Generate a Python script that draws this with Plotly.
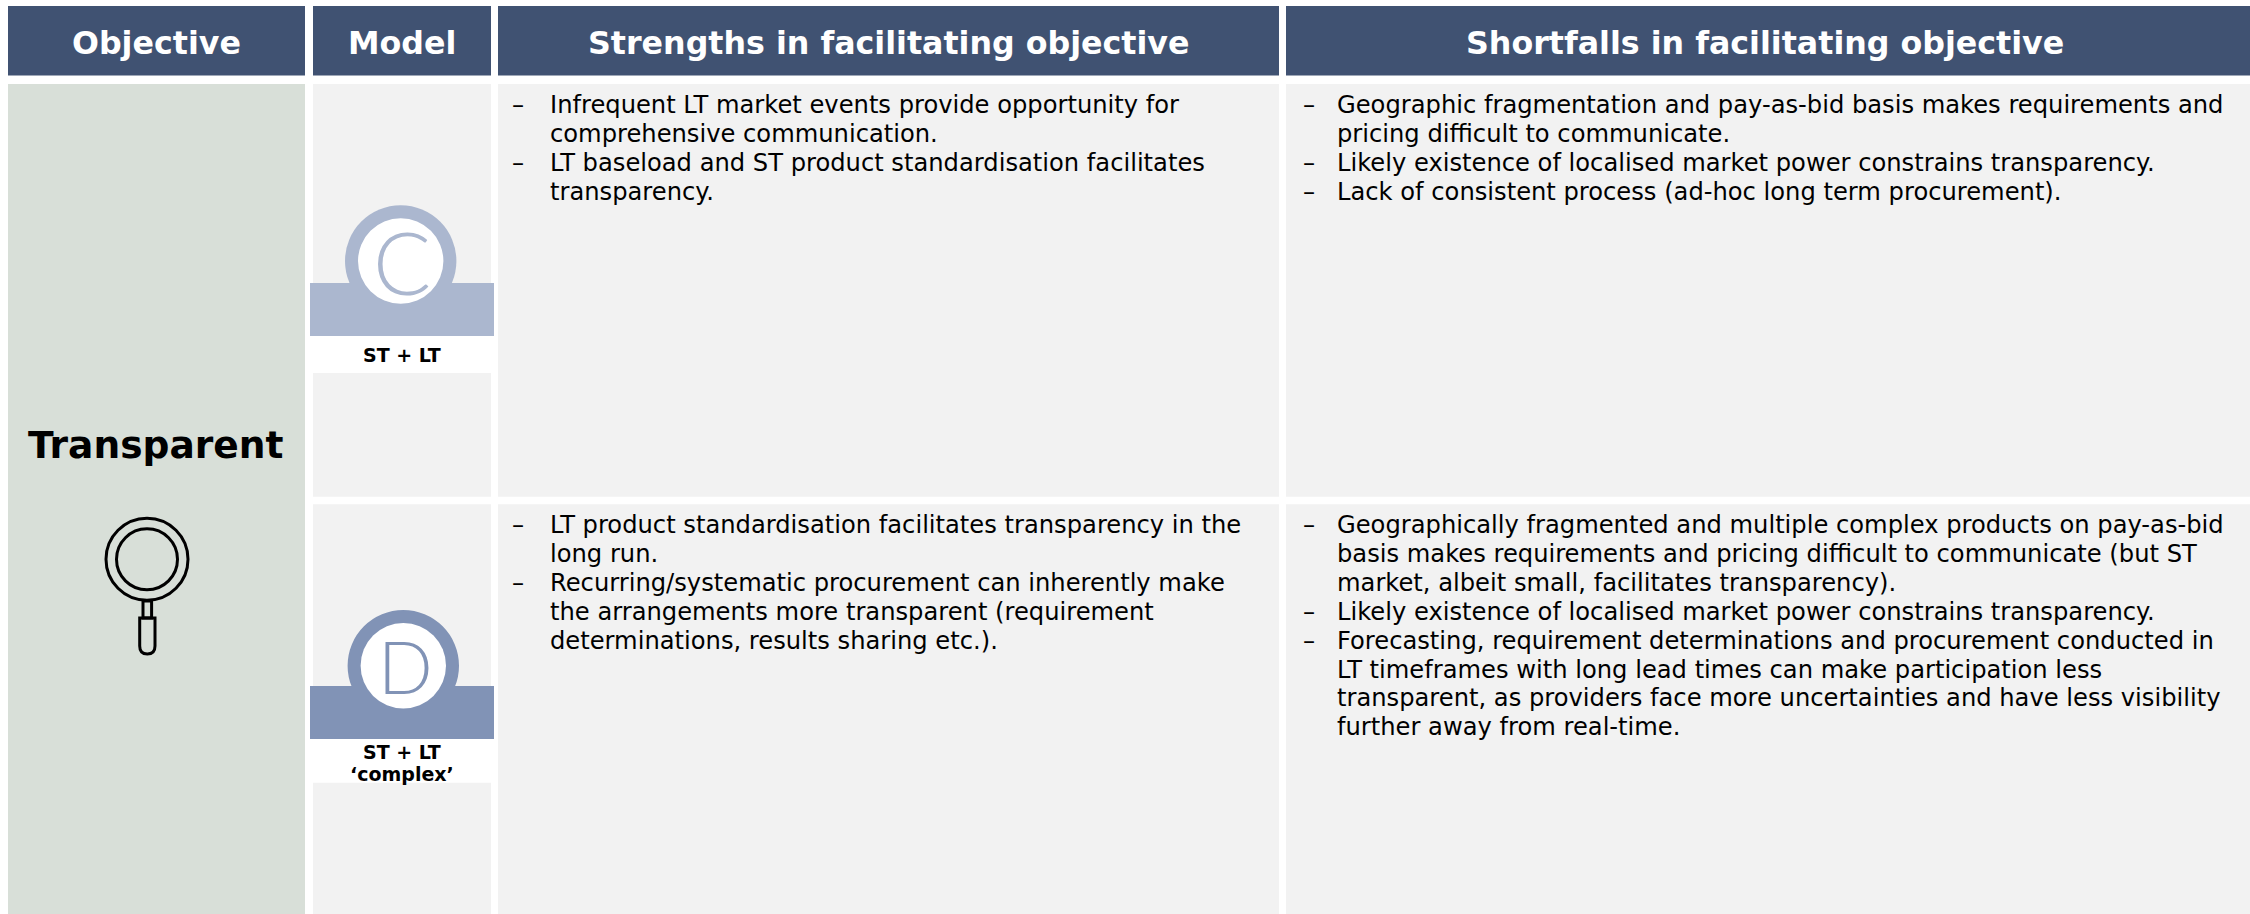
import plotly.graph_objects as go

W, H = 2250, 914
NAVY, SAGE, GREY = "#405272", "#D8DFD8", "#F2F2F2"
BLUE_C, BLUE_D = "#ABB7CF", "#8193B6"
FONT = "DejaVu Sans"

headers = ["Objective", "Model", "Strengths in facilitating objective", "Shortfalls in facilitating objective"]
col_left = [8, 313, 498, 1286]
col_right = [305, 491, 1279, 2250]
header_x = [156.7, 401.5, 888, 1765]
header_top, header_bottom = 6, 75.5
row_top = [84, 504.3]
row_bottom = [496.7, 914]

objective = "Transparent"
models = ["C", "D"]
model_labels = [["ST + LT"], ["ST + LT", "‘complex’"]]
model_colors = [BLUE_C, BLUE_D]
badge_x = [400.7, 403.3]
badge_y = [261, 665.7]
letter_x = [402, 405]
letter_y = [261, 666]
letter_size = [86, 72]
band_top = [283, 686]
band_bottom = [336, 739]
strip_bottom = [373, 782.7]
label_y = [[355], [752, 773.5]]

strengths = [
    [["Infrequent LT market events provide opportunity for", "comprehensive communication."],
     ["LT baseload and ST product standardisation facilitates", "transparency."]],
    [["LT product standardisation facilitates transparency in the", "long run."],
     ["Recurring/systematic procurement can inherently make", "the arrangements more transparent (requirement",
      "determinations, results sharing etc.)."]],
]
shortfalls = [
    [["Geographic fragmentation and pay-as-bid basis makes requirements and", "pricing difficult to communicate."],
     ["Likely existence of localised market power constrains transparency."],
     ["Lack of consistent process (ad-hoc long term procurement)."]],
    [["Geographically fragmented and multiple complex products on pay-as-bid",
      "basis makes requirements and pricing difficult to communicate (but ST",
      "market, albeit small, facilitates transparency)."],
     ["Likely existence of localised market power constrains transparency."],
     ["Forecasting, requirement determinations and procurement conducted in",
      "LT timeframes with long lead times can make participation less",
      "transparent, as providers face more uncertainties and have less visibility",
      "further away from real-time."]],
]
first_line_y = [104.8, 525]
line_step = 28.9
dash_x = [512, 1303]
text_x = [550, 1337]
TEXT_SIZE = 24.2

shapes, ann = [], []


def rect(x0, y0, x1, y1, fill):
    shapes.append(dict(type="rect", x0=x0, y0=y0, x1=x1, y1=y1, fillcolor=fill, line_width=0, layer="below"))


def circle(cx, cy, r, fill="rgba(0,0,0,0)", line=None, width=0):
    shapes.append(dict(type="circle", x0=cx - r, y0=cy - r, x1=cx + r, y1=cy + r, fillcolor=fill,
                       line=dict(color=line or "rgba(0,0,0,0)", width=width), layer="below"))


def text(x, y, s, size, color="#000000", bold=False, anchor="center", family=FONT):
    ann.append(dict(x=x, y=y, text=f"<b>{s}</b>" if bold else s, showarrow=False, xanchor=anchor, yanchor="middle",
                    xref="x", yref="y", font=dict(family=family, size=size, color=color), borderpad=0, borderwidth=0))


# headers
for h, l, r, hx in zip(headers, col_left, col_right, header_x):
    rect(l, header_top, r, header_bottom, NAVY)
    text(hx, 43, h, 31.7, "#FFFFFF", True)

# objective column
rect(col_left[0], row_top[0], col_right[0], row_bottom[1], SAGE)
text(156, 445, objective, 37.6, "#000000", True)

# magnifier icon
circle(147, 559.3, 41, line="#000000", width=3)
circle(147, 559.3, 30.5, line="#000000", width=3)
rect(143, 601, 151.6, 618, "rgba(0,0,0,0)")
shapes[-1]["line"] = dict(color="#000000", width=3)
shapes[-1].pop("line_width")
shapes.append(dict(type="path", path="M 139.7 618 L 155 618 L 155 646 Q 155 654 147.3 654 Q 139.7 654 139.7 646 Z",
                   line=dict(color="#000000", width=3), fillcolor="rgba(0,0,0,0)", layer="below"))

# grey cells
for i in range(2):
    for c in (1, 2, 3):
        rect(col_left[c], row_top[i], col_right[c], row_bottom[i], GREY)

# model badges
for i in range(2):
    rect(col_left[1], band_bottom[i], col_right[1], strip_bottom[i], "#FFFFFF")
    circle(badge_x[i], badge_y[i], 55.7, fill=model_colors[i])
    rect(310, band_top[i], 494, band_bottom[i], model_colors[i])
    circle(badge_x[i], badge_y[i], 42.7, fill="#FFFFFF")
    text(letter_x[i], letter_y[i], models[i], letter_size[i], model_colors[i], family="Lato Light, Lato")
    for s, y in zip(model_labels[i], label_y[i]):
        text(402, y, s, 19, "#000000", True)

# bullets
for c, block in enumerate((strengths, shortfalls)):
    for i in range(2):
        n = 0
        for bullet in block[i]:
            text(dash_x[c], first_line_y[i] + n * line_step, "–", TEXT_SIZE, anchor="left")
            for line in bullet:
                text(text_x[c], first_line_y[i] + n * line_step, line, TEXT_SIZE, anchor="left")
                n += 1

fig = go.Figure()
fig.add_trace(go.Scatter(x=[0, W], y=[0, H], mode="markers", marker=dict(opacity=0), hoverinfo="skip", showlegend=False))
fig.update_layout(width=W, height=H, margin=dict(l=0, r=0, t=0, b=0), paper_bgcolor="#FFFFFF", plot_bgcolor="#FFFFFF",
                  xaxis=dict(range=[0, W], visible=False, fixedrange=True),
                  yaxis=dict(range=[H, 0], visible=False, fixedrange=True),
                  shapes=shapes, annotations=ann)
fig.write_html("out.html", config=dict(displayModeBar=False),
               post_script="document.body.style.margin='0';document.documentElement.style.overflow='hidden';")
